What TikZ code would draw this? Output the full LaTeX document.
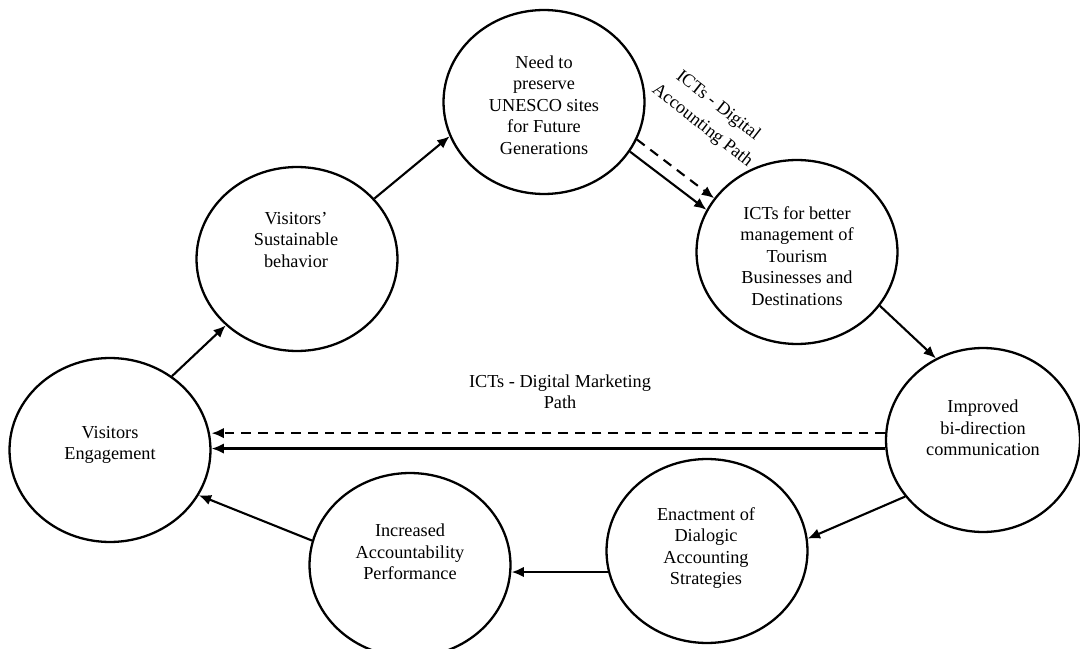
\documentclass[tikz,border=0pt]{standalone}
\usepackage{fontspec}
\setmainfont{Liberation Serif}
\usetikzlibrary{shapes.geometric,arrows.meta}

\begin{document}
\begin{tikzpicture}[
  x=0.02cm, y=-0.02cm,
  stage/.style={ellipse, draw, line width=1.3pt, minimum width=4.02cm, minimum height=3.68cm, inner sep=0pt},
  txt/.style={align=center, inner sep=0pt, font=\fontsize{10.4}{12.2}\selectfont},
  arr/.style={-{Latex[length=7pt,width=6pt]}, line width=1.2pt},
  dsh/.style={dash pattern=on 5.5pt off 4pt}
]
  \useasboundingbox (0,0) rectangle (1080,649);

  % the cycle
  \node[stage] (ve) at (110,450) {};
  \node[stage] (vs) at (297,259) {};
  \node[stage] (need) at (544,102) {};
  \node[stage] (ict) at (797,252) {};
  \node[stage, minimum width=3.88cm] (imp) at (983,440) {};
  \node[stage] (enact) at (707,551) {};
  \node[stage] (incr) at (410,565) {};

  \node[txt] (ve-t) at (110,445) {Visitors\\Engagement};
  \node[txt] (vs-t) at (296,240) {Visitors’\\Sustainable\\behavior};
  \node[txt] (need-t) at (544,105) {Need to\\preserve\\UNESCO sites\\for Future\\Generations};
  \node[txt] (ict-t) at (797,256) {ICTs for better\\management of\\Tourism\\Businesses and\\Destinations};
  \node[txt] (imp-t) at (983,428) {Improved\\bi-direction\\communication};
  \node[txt] (enact-t) at (706,548) {Enactment of\\Dialogic\\Accounting\\Strategies};
  \node[txt] (incr-t) at (410,552) {Increased\\Accountability\\Performance};

  \draw[arr] (ve.50) -- (vs.223);
  \draw[arr] (vs.38) -- (need.200);
  \draw[arr] (need.-30) -- (ict.155);
  \draw[arr, dsh] (need.-22) -- (ict.147);
  \draw[arr] (ict.-33) -- (imp.120);
  \draw[arr] (imp.-144) -- (enact.7);
  \draw[arr] (enact.192) -- (enact.192 -| incr.east);
  \draw[arr] (incr.166) -- (ve.-27);
  \draw[arr, dsh] (imp.176) -- (imp.176 -| ve.east);
  \draw[arr] (imp.185) -- (imp.185 -| ve.east);

  % path labels
  \node[txt, rotate=-38, font=\fontsize{10.4}{14.5}\selectfont] (acc) at (710,116) {ICTs - Digital\\Accounting Path};
  \node[txt] (mkt) at (560,392) {ICTs - Digital Marketing\\Path};
\end{tikzpicture}
\end{document}
